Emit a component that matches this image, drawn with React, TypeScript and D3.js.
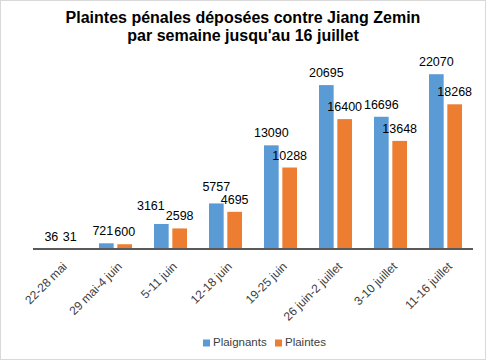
import React from 'react';
import * as d3 from 'd3';

const categories = [
    '22-28 mai',
    '29 mai-4 juin',
    '5-11 juin',
    '12-18 juin',
    '19-25 juin',
    '26 juin-2 juillet',
    '3-10 juillet',
    '11-16 juillet',
];
const plaignants = [36, 721, 3161, 5757, 13090, 20695, 16696, 22070];
const plaintes = [31, 600, 2598, 4695, 10288, 16400, 13648, 18268];
const seriesNames = ['Plaignants', 'Plaintes'];
const seriesColors = ['#5B9BD5', '#ED7D31'];

const width = 486;
const height = 360;
const margin = { top: 51, right: 13, bottom: 111, left: 33 };
const font = '"Liberation Sans", Arial, sans-serif';
const labelGap = 8;
const labelSize = 12.5;
const digitWidth = 6.95;

const App: React.FC = () => {
    const baseline = height - margin.bottom;

    // one band per week, then one sub band per series
    const xScale = d3
        .scaleBand<string>()
        .domain(categories)
        .range([margin.left, width - margin.right])
        .paddingInner(0.4)
        .paddingOuter(0.2);

    const xSeries = d3
        .scaleBand<number>()
        .domain([0, 1])
        .range([0, xScale.bandwidth()])
        .paddingInner(0.2);

    const yScale = d3
        .scaleLinear()
        .domain([0, 25000])
        .range([baseline, margin.top]);

    const series = [plaignants, plaintes];
    const bw = xSeries.bandwidth();

    // data labels, nudged the way Excel does when the two labels of a week collide
    const labels = categories.map((c, i) => {
        const pos = series.map((values, si) => ({
            x: (xScale(c) ?? 0) + (xSeries(si) ?? 0) + bw / 2,
            y: yScale(values[i]) - labelGap,
            w: String(values[i]).length * digitWidth,
        }));
        const [a, b] = pos;
        const diff = b.y - a.y;
        const overlap = a.x + a.w / 2 - (b.x - b.w / 2);
        if (overlap > 0 && diff < 10) {
            if (diff >= 6) {
                a.y = b.y - 13;
            } else {
                a.x -= overlap + 1;
                if (diff >= 3) a.y = b.y - 10;
            }
        }
        return pos;
    });

    return (
        <svg
            width={width}
            height={height}
            style={{ position: 'absolute', left: 0, top: 0 }}
            fontFamily={font}
        >
            <rect x={0} y={0} width={width} height={height} fill="#ffffff" />
            <rect
                x={0.5}
                y={0.5}
                width={width - 1}
                height={height - 1}
                fill="none"
                stroke="#d9d9d9"
            />

            {/* title, two lines */}
            <text
                x={width / 2}
                textAnchor="middle"
                fontSize={16}
                fontWeight="bold"
                fill="#000000"
            >
                <tspan x={width / 2} y={23}>
                    Plaintes pénales déposées contre Jiang Zemin
                </tspan>
                <tspan x={width / 2} y={41}>
                    par semaine jusqu'au 16 juillet
                </tspan>
            </text>

            {series.map((values, si) => (
                <g key={seriesNames[si]}>
                    {values.map((v, i) => {
                        const x = (xScale(categories[i]) ?? 0) + (xSeries(si) ?? 0);
                        const y = yScale(v);
                        return (
                            <rect
                                key={categories[i]}
                                x={x}
                                y={y}
                                width={bw}
                                height={baseline - y}
                                fill={seriesColors[si]}
                            />
                        );
                    })}
                </g>
            ))}

            {series.map((values, si) => (
                <g key={seriesNames[si] + '-labels'}>
                    {values.map((v, i) => (
                        <text
                            key={categories[i]}
                            x={labels[i][si].x}
                            y={labels[i][si].y}
                            textAnchor="middle"
                            fontSize={labelSize}
                            fill="#000000"
                        >
                            {v}
                        </text>
                    ))}
                </g>
            ))}

            <line
                x1={margin.left}
                x2={width - margin.right}
                y1={baseline}
                y2={baseline}
                stroke="#595959"
                strokeWidth={2}
            />

            {categories.map((c) => {
                const cx = (xScale(c) ?? 0) + xScale.bandwidth() / 2 + 5;
                const cy = baseline + 16;
                return (
                    <text
                        key={c}
                        transform={`translate(${cx},${cy}) rotate(-45)`}
                        textAnchor="end"
                        dominantBaseline="middle"
                        fontSize={12}
                        fill="#404040"
                    >
                        {c}
                    </text>
                );
            })}

            {/* legend */}
            {seriesNames.map((name, si) => {
                const lx = si === 0 ? 203 : 275;
                return (
                    <g key={name} transform={`translate(${lx},${343})`}>
                        <rect x={0} y={-3.5} width={7} height={7} fill={seriesColors[si]} />
                        <text
                            x={10}
                            y={0}
                            dominantBaseline="middle"
                            fontSize={11.5}
                            fill="#404040"
                        >
                            {name}
                        </text>
                    </g>
                );
            })}
        </svg>
    );
};

export default App;
